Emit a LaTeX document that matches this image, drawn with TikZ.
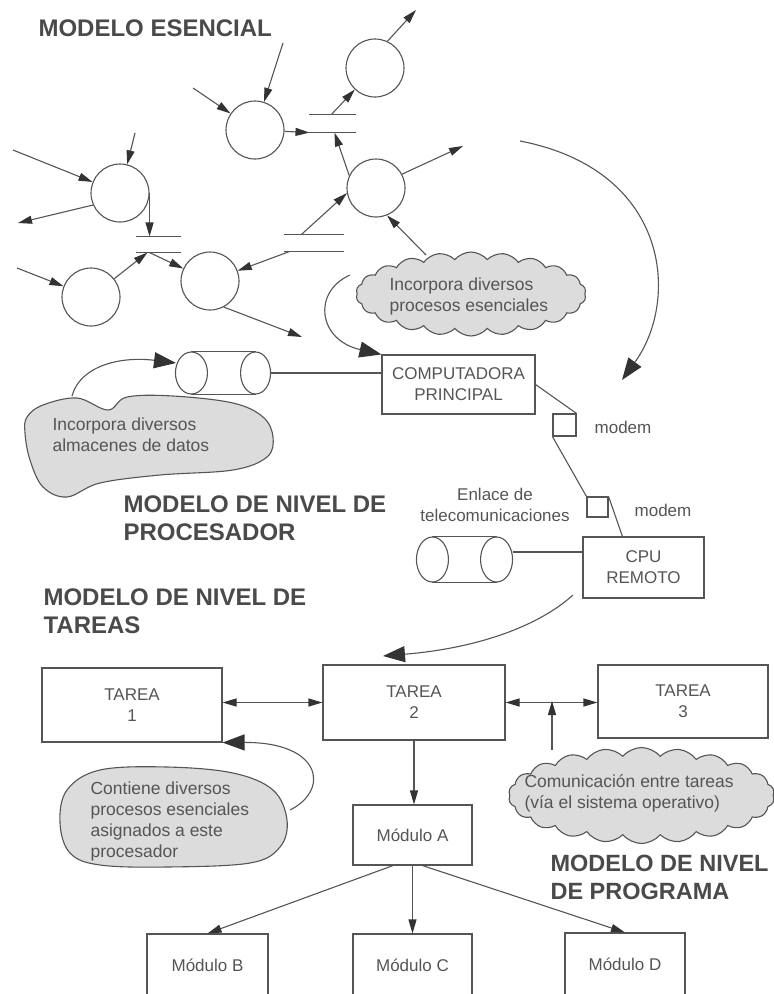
\documentclass[tikz,border=0pt]{standalone}
\usepackage{fontspec}
\setmainfont{Liberation Sans}
\usetikzlibrary{arrows.meta,shapes.symbols,calc}

\definecolor{ink}{HTML}{555555}
\definecolor{inkdark}{HTML}{333333}
\definecolor{titlegray}{HTML}{4A4A4A}
\definecolor{cloudfill}{HTML}{DCDCDC}

\newcommand\dgmtext{\fontsize{17}{21}\selectfont}
\newcommand\dgmnote{\fontsize{17.5}{21}\selectfont}
\newcommand\dgmtitle{\fontsize{24}{28}\selectfont\bfseries}

\begin{document}
\begin{tikzpicture}[x=1pt,y=-1pt,color=ink,line width=1.1pt,
  proc/.style={circle,draw,minimum size=58pt,inner sep=0pt},
  store/.style={inner sep=0pt,minimum height=16pt},
  box/.style={draw,rectangle,inner sep=0pt,align=center,font=\dgmtext},
  arr/.style={-{Triangle[length=14pt,width=8pt,color=inkdark]}},
  darr/.style={{Triangle[length=14pt,width=8pt,color=inkdark]}-{Triangle[length=14pt,width=8pt,color=inkdark]}},
  bigarr/.style={-{Triangle[length=22pt,width=16pt,color=inkdark]}},
  heading/.style={font=\dgmtitle,align=left,inner sep=0pt,anchor=west,text=titlegray},
  note/.style={font=\dgmnote,align=left,inner sep=0pt,anchor=west},
  puffy/.style={cloud,cloud puffs=22,cloud puff arc=100,cloud ignores aspect,
    draw,fill=cloudfill,inner sep=0pt},
  blob/.style={draw,fill=cloudfill}]

\fill[white] (0,0) rectangle (774,994);
\useasboundingbox (0,0) rectangle (774,994);

% ---------------- essential model ----------------
\node[heading] (h-ess) at (38,28) {MODELO ESENCIAL};

\node[proc] (A) at (255,130) {};
\node[proc] (B) at (375,68) {};
\node[proc] (C) at (376,188) {};
\node[proc] (D) at (120,193) {};
\node[proc] (E) at (91,297) {};
\node[proc] (F) at (210,281) {};

% data stores drawn as pairs of parallel lines
\node[store,minimum width=45pt,minimum height=17pt] (s1) at (332.5,123.5) {};
\node[store,minimum width=43pt,minimum height=15pt] (s2) at (158.5,244.5) {};
\node[store,minimum width=58pt,minimum height=16pt] (s3) at (314,243) {};
\foreach \s in {s1,s2,s3}{
  \draw (\s.north west) -- (\s.north east) (\s.south west) -- (\s.south east);
}

\coordinate (aIn1) at (193,88);
\coordinate (aIn2) at (283,43);
\coordinate (bOut) at (416,10);
\coordinate (cOut) at (463,146);
\coordinate (dIn1) at (13,150);
\coordinate (dIn2) at (135,133);
\coordinate (dOut) at (18,223);
\coordinate (eIn)  at (17,268);
\coordinate (fOut) at (302,337);
\coordinate (c1Src) at (426,255);

\draw[arr] (aIn1) -- (A);
\draw[arr] (aIn2) -- (A);
\draw[arr] (A) -- (s1.south west);
\draw[arr] ([xshift=22pt]s1.north west) -- (B);
\draw[arr] (B.65) -- (bOut);
\draw[arr] (C.155) -- ([xshift=25pt]s1.south west);
\draw[arr] (C.28) -- (cOut);
\draw[arr] ([xshift=17pt]s3.north west) -- (C.190);
\draw[arr] (c1Src) -- (C.-68);
\draw[arr] ([xshift=5pt]s3.south west) -- (F);
\draw[arr] (dIn1) -- (D);
\draw[arr] (dIn2) -- (D);
\draw[arr] (D.204) -- (dOut);
\draw[arr] (D.east) -- (D.east |- s2.north);
\draw[arr] (eIn) -- (E);
\draw[arr] (E) -- ([xshift=11pt]s2.south west);
\draw[arr] ([xshift=13pt]s2.south west) -- (F);
\draw[arr] (F.-62) -- (fOut);

\node[puffy,minimum width=230pt,minimum height=84pt] (cl1) at (471,294) {};
\node[note] (cl1-t) at (389,296.5) {Incorpora diversos\\procesos esenciales};

% ---------------- processor model ----------------
\node[box,minimum width=153pt,minimum height=59pt] (comp) at (458.5,384.5) {COMPUTADORA\\PRINCIPAL};

\node[inner sep=0pt,minimum width=94pt,minimum height=42pt] (cy1) at (223,373) {};
\draw ([xshift=16pt]cy1.west) ellipse [x radius=16pt,y radius=21pt];
\draw ([xshift=-15pt]cy1.east) ellipse [x radius=15pt,y radius=21pt];
\draw ([xshift=16pt]cy1.north west) -- ([xshift=-15pt]cy1.north east)
      ([xshift=16pt]cy1.south west) -- ([xshift=-15pt]cy1.south east);
\draw (cy1.east) -- (cy1.east -| comp.west);

\coordinate (bigSrc) at (520,141);
\coordinate (bigTip) at (622,380);
\draw[bigarr] (bigSrc) .. controls (670,170) and (680,300) .. (bigTip);

\coordinate (c1Curl) at (350,275);
\draw[bigarr] (c1Curl) .. controls (312,292) and (318,340) .. (comp.north west);

\draw[blob] plot[smooth cycle,tension=0.6] coordinates {
  (27,417) (43,405) (77,398) (108,410) (127,397) (173,396) (233,403)
  (263,417) (273,437) (267,457) (233,470) (160,475) (100,483) (67,497)
  (43,487) (30,460) (25,433)};
\node[note] (cl2-t) at (52,435) {Incorpora diversos\\almacenes de datos};
\coordinate (c2Src) at (72,396);
\draw[bigarr] (c2Src) .. controls (80,366) and (120,356) .. (176,363);

\node[box,minimum width=23pt,minimum height=22pt] (m1) at (564.5,425) {};
\node[box,minimum width=21pt,minimum height=20pt] (m2) at (597.5,507) {};
\node[font=\dgmtext,inner sep=0pt] (m1-t) at (623,427) {modem};
\node[font=\dgmtext,inner sep=0pt] (m2-t) at (663,510) {modem};
\node[font=\dgmtext,inner sep=0pt,align=center] (link-t) at (495,505) {Enlace de\\telecomunicaciones};

\node[box,minimum width=121pt,minimum height=61pt] (cpu) at (643.5,567.5) {CPU\\REMOTO};

\draw (comp.east) -- (m1.north east);
\draw (m1.south west) -- (m2.north west);
\draw (m2.north east) -- ([xshift=40pt]cpu.north west);

\node[inner sep=0pt,minimum width=95pt,minimum height=45pt] (cy2) at (464.5,559.5) {};
\draw ([xshift=16pt]cy2.west) ellipse [x radius=16pt,y radius=22.5pt];
\draw ([xshift=-16pt]cy2.east) ellipse [x radius=16pt,y radius=22.5pt];
\draw ([xshift=16pt]cy2.north west) -- ([xshift=-16pt]cy2.north east)
      ([xshift=16pt]cy2.south west) -- ([xshift=-16pt]cy2.south east);
\draw ([yshift=7.5pt]cy2.east) -- ([yshift=7.5pt]cy2.east -| cpu.west);

\node[heading] (h-proc) at (123,518) {MODELO DE NIVEL DE\\PROCESADOR};

% ---------------- task model ----------------
\node[heading] (h-task) at (43,611.5) {MODELO DE NIVEL DE\\TAREAS};

\node[box,minimum width=180pt,minimum height=74pt] (t1) at (132,705) {TAREA\\1};
\node[box,minimum width=182pt,minimum height=75pt] (t2) at (414,702.5) {TAREA\\2};
\node[box,minimum width=170pt,minimum height=73pt] (t3) at (683,701.5) {TAREA\\3};

\coordinate (cpuSrc) at (573,595);
\draw[bigarr] (cpuSrc) .. controls (540,625) and (480,648) .. (383,656);

\draw[darr] (t2.west -| t1.east) -- (t2.west);
\draw[darr] (t2.east) -- (t2.east -| t3.west);

\node[puffy,minimum width=266pt,minimum height=96pt] (cl3) at (641.5,795.5) {};
\node[note] (cl3-t) at (524,793) {Comunicación entre tareas\\(vía el sistema operativo)};
\coordinate (c3Src) at (552,750);
\coordinate (c3Tip) at (552,701);
\draw[arr] (c3Src) -- (c3Tip);

\draw[blob] plot[smooth cycle,tension=0.6] coordinates {
  (100,770) (167,767) (233,773) (273,790) (287,820) (280,847) (250,863)
  (167,867) (100,865) (70,853) (60,823) (67,790)};
\node[note] (cl4-t) at (90,821) {Contiene diversos\\procesos esenciales\\asignados a este\\procesador};
\coordinate (c4Src) at (290,810);
\draw[bigarr] (c4Src) .. controls (330,790) and (322,742) .. (t1.south east);

% ---------------- program model ----------------
\node[heading,font=\fontsize{23.5}{28}\selectfont\bfseries] (h-prog) at (550,877) {MODELO DE NIVEL\\DE PROGRAMA};

\node[box,minimum width=119pt,minimum height=60pt] (ma) at (412.5,835) {Módulo A};
\node[box,minimum width=121pt,minimum height=62pt] (mb) at (207.5,965) {Módulo B};
\node[box,minimum width=119pt,minimum height=62pt] (mc) at (412.5,965) {Módulo C};
\node[box,minimum width=120pt,minimum height=62pt] (md) at (625,964) {Módulo D};

\draw[arr] (t2.south) -- (t2.south |- ma.north);
\draw[arr] ([xshift=-19.5pt]ma.south) -- (mb.north);
\draw[arr] (ma.south) -- (mc.north);
\draw[arr] ([xshift=10pt]ma.south) -- (md.north);

\end{tikzpicture}
\end{document}
